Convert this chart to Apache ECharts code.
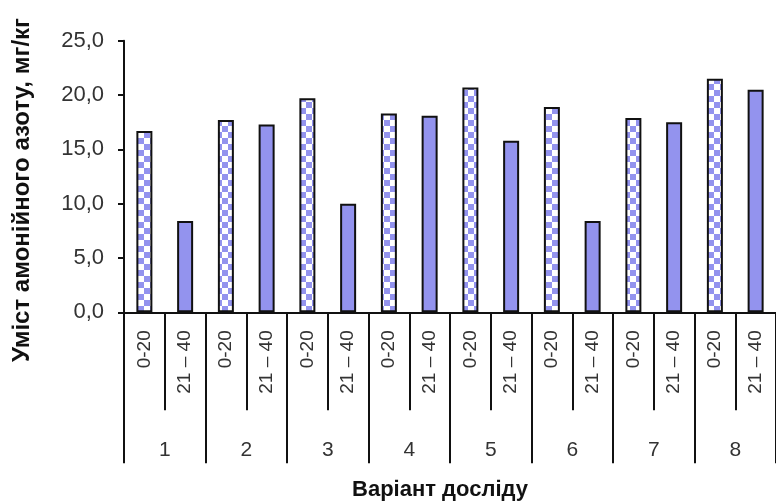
<!DOCTYPE html>
<html>
<head>
<meta charset="utf-8">
<script src="https://cdn.jsdelivr.net/npm/echarts@6/dist/echarts.min.js"></script>
<style>
  html, body { margin: 0; padding: 0; background: #fff; }
  #chart { width: 776px; height: 504px; }
</style>
</head>
<body>
<div id="chart"></div>
<script>
// depth layers inside each variant
const depths = ['0-20', '21 – 40'];
const variants = ['1', '2', '3', '4', '5', '6', '7', '8'];
// ammonium nitrogen, mg/kg
const layer0_20 = [16.7, 17.7, 19.7, 18.3, 20.7, 18.9, 17.9, 21.5];
const layer21_40 = [8.4, 17.3, 10.0, 18.1, 15.8, 8.4, 17.5, 20.5];
const yTicks = [0, 5, 10, 15, 20, 25];

const barBlue = '#9393ee';

// checker pattern for the 0-20 layer
const cell = 6;
const pat = document.createElement('canvas');
pat.width = cell * 2;
pat.height = cell * 2;
const pctx = pat.getContext('2d');
pctx.fillStyle = '#ffffff';
pctx.fillRect(0, 0, cell * 2, cell * 2);
pctx.fillStyle = barBlue;
pctx.fillRect(0, 0, cell, cell);
pctx.fillRect(cell, cell, cell, cell);

const categories = [];
const barData = [];
variants.forEach((v, i) => {
  categories.push(depths[0], depths[1]);
  barData.push({
    value: layer0_20[i],
    itemStyle: { color: { image: pat, repeat: 'repeat', imageWidth: cell * 2, imageHeight: cell * 2 } }
  });
  barData.push({ value: layer21_40[i], itemStyle: { color: barBlue } });
});

const chart = echarts.init(document.getElementById('chart'));

const option = {
  backgroundColor: '#ffffff',
  animation: false,
  grid: {
    left: 124,
    right: -6,
    top: 40.8,
    bottom: 191.7,
    containLabel: false
  },
  xAxis: [
    {
      type: 'category',
      data: categories,
      position: 'bottom',
      axisLine: { lineStyle: { color: '#111', width: 2 } },
      axisTick: { show: true, interval: 0, length: 98, lineStyle: { color: '#111', width: 2 } },
      axisLabel: {
        interval: 0,
        rotate: 90,
        margin: 18,
        fontFamily: 'Liberation Sans, Arial, sans-serif',
        fontSize: 19,
        color: '#333'
      }
    },
    {
      type: 'category',
      data: variants,
      position: 'bottom',
      axisLine: { show: false },
      axisTick: { show: true, interval: 0, length: 151, lineStyle: { color: '#111', width: 2 } },
      axisLabel: {
        interval: 0,
        margin: 127,
        fontFamily: 'Liberation Sans, Arial, sans-serif',
        fontSize: 21,
        color: '#333'
      }
    }
  ],
  yAxis: {
    type: 'value',
    min: yTicks[0],
    max: yTicks[yTicks.length - 1],
    interval: 5,
    splitLine: { show: false },
    axisLine: { show: true, lineStyle: { color: '#111', width: 2 } },
    axisTick: { show: true, length: 6, lineStyle: { color: '#111', width: 2 } },
    axisLabel: {
      margin: 20,
      fontFamily: 'Liberation Sans, Arial, sans-serif',
      fontSize: 22,
      color: '#333',
      formatter: (val) => val.toFixed(1).replace('.', ',')
    }
  },
  series: [
    {
      type: 'bar',
      xAxisIndex: 0,
      data: barData,
      barWidth: 16,
      itemStyle: { borderColor: '#111', borderWidth: 2 }
    }
  ],
  graphic: [
    {
      type: 'text',
      x: 22,
      y: 190,
      rotation: Math.PI / 2,
      style: {
        text: 'Уміст амонійного азоту, мг/кг',
        fontFamily: 'Liberation Sans, Arial, sans-serif',
        fontWeight: 'bold',
        fontSize: 24,
        fill: '#111',
        align: 'center',
        verticalAlign: 'middle'
      }
    },
    {
      type: 'text',
      x: 440,
      y: 490,
      style: {
        text: 'Варіант досліду',
        fontFamily: 'Liberation Sans, Arial, sans-serif',
        fontWeight: 'bold',
        fontSize: 22,
        fill: '#111',
        align: 'center',
        verticalAlign: 'middle'
      }
    }
  ]
};

chart.setOption(option);
</script>
</body>
</html>
